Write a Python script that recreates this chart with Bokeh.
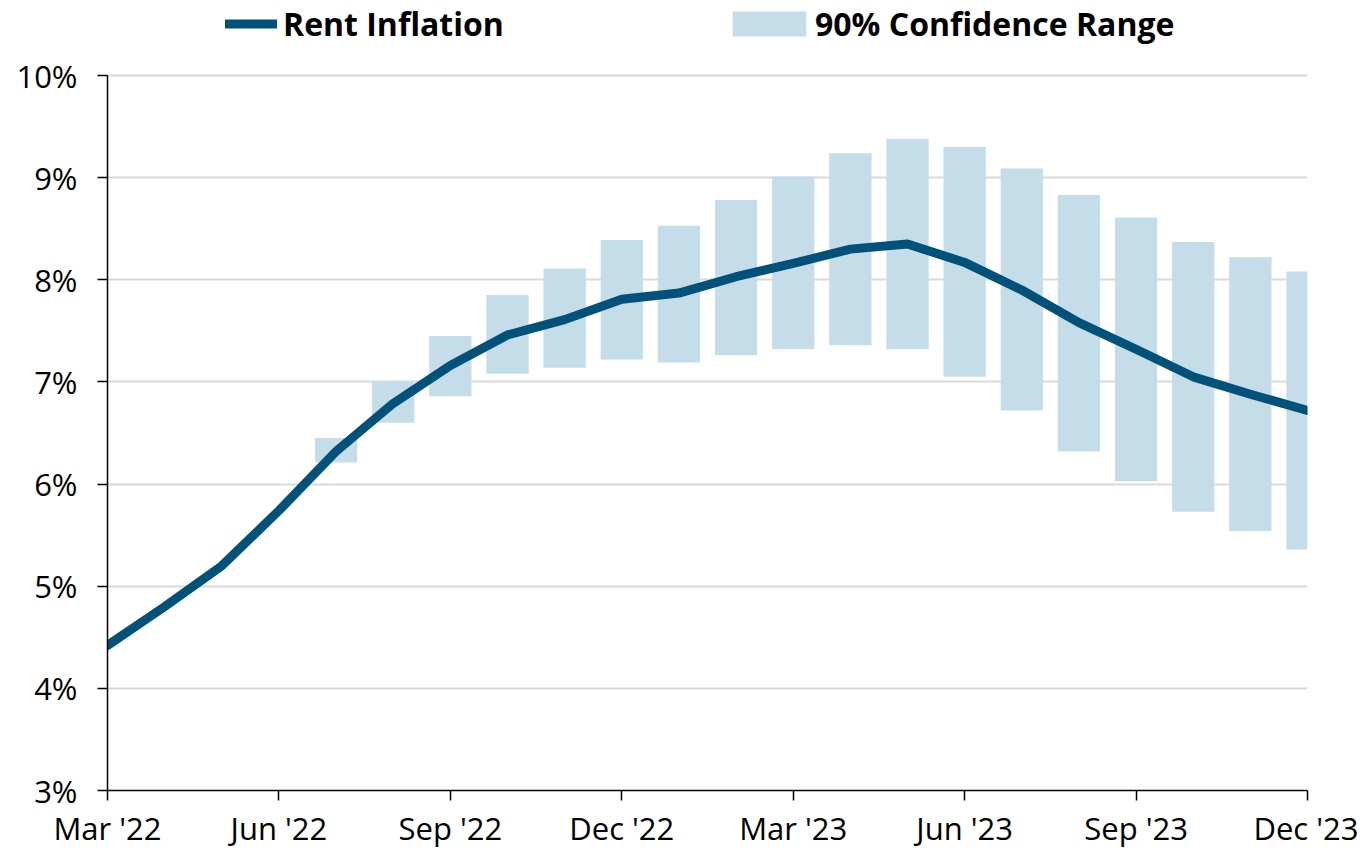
from bokeh.plotting import figure
from bokeh.models import Legend, LegendItem, FixedTicker, ColumnDataSource, Range1d
from bokeh.embed import file_html
from bokeh.resources import INLINE

months = ["Mar '22", "Apr '22", "May '22", "Jun '22", "Jul '22", "Aug '22", "Sep '22",
          "Oct '22", "Nov '22", "Dec '22", "Jan '23", "Feb '23", "Mar '23", "Apr '23",
          "May '23", "Jun '23", "Jul '23", "Aug '23", "Sep '23", "Oct '23", "Nov '23", "Dec '23"]
rent_inflation = [4.42, 4.80, 5.20, 5.74, 6.32, 6.79, 7.16, 7.46, 7.61, 7.81, 7.87,
                  8.03, 8.16, 8.30, 8.35, 8.17, 7.90, 7.58, 7.32, 7.05, 6.88, 6.72]
band_months = months[4:]
band_high = [6.45, 7.00, 7.45, 7.85, 8.11, 8.39, 8.53, 8.78, 9.01, 9.24, 9.38,
             9.30, 9.09, 8.83, 8.61, 8.37, 8.22, 8.08]
band_low = [6.21, 6.60, 6.86, 7.08, 7.14, 7.22, 7.19, 7.26, 7.32, 7.36, 7.32,
            7.05, 6.72, 6.32, 6.03, 5.73, 5.54, 5.36]
y_ticks = [3, 4, 5, 6, 7, 8, 9, 10]
x_tick_labels = ["Mar '22", "Jun '22", "Sep '22", "Dec '22", "Mar '23", "Jun '23", "Sep '23", "Dec '23"]

LINE = "#00527a"
BAND = "#c5dde9"
FONT = "Open Sans"

HEIGHT = 852
Y_MIN, Y_MAX = 3, 10
FRAME_TOP = 0        # canvas px
AXIS_TOP = 75        # canvas px where 10% sits
AXIS_BOTTOM = 790    # canvas px where 3% sits (frame bottom)
px_per_unit = (AXIS_BOTTOM - AXIS_TOP) / (Y_MAX - Y_MIN)
y_top = Y_MIN + (AXIS_BOTTOM - FRAME_TOP) / px_per_unit  # headroom for the legend

idx = {m: i for i, m in enumerate(months)}
line_src = ColumnDataSource(dict(x=[idx[m] for m in months], y=rent_inflation))
band_src = ColumnDataSource(dict(x=[idx[m] for m in band_months], top=band_high, bottom=band_low))

p = figure(width=1358, height=HEIGHT, output_backend="svg", toolbar_location=None,
           x_range=Range1d(0, len(months) - 1), y_range=Range1d(Y_MIN, y_top),
           min_border_left=107, min_border_right=51, min_border_top=FRAME_TOP,
           min_border_bottom=HEIGHT - AXIS_BOTTOM)
p.outline_line_color = None
p.background_fill_color = "white"

bars = p.vbar(x="x", top="top", bottom="bottom", width=0.74, source=band_src,
              fill_color=BAND, line_color=None)
ln = p.line(x="x", y="y", source=line_src, line_color=LINE, line_width=9,
            line_cap="round", line_join="round")

# axes
p.xaxis.ticker = FixedTicker(ticks=[idx[m] for m in x_tick_labels])
p.xaxis.major_label_overrides = {idx[m]: m for m in x_tick_labels}
p.yaxis.ticker = FixedTicker(ticks=y_ticks)
p.yaxis.major_label_overrides = {t: f"{t}%" for t in y_ticks}
p.yaxis.bounds = (Y_MIN, Y_MAX)
for ax in (p.xaxis[0], p.yaxis[0]):
    ax.axis_line_color = "black"
    ax.axis_line_width = 1.5
    ax.major_tick_line_color = "black"
    ax.major_tick_line_width = 1.5
    ax.major_tick_out = 10
    ax.major_tick_in = 0
    ax.minor_tick_line_color = None
    ax.major_label_text_font = FONT
    ax.major_label_text_font_size = "31px"
    ax.major_label_text_color = "black"
p.yaxis.major_label_standoff = 20
p.xaxis.major_label_standoff = 6

p.xgrid.grid_line_color = None
p.ygrid.grid_line_color = "#d9d9d9"
p.ygrid.grid_line_width = 2

common = dict(orientation="horizontal", border_line_color=None, background_fill_alpha=0,
              padding=0, margin=0,
              label_text_font=FONT, label_text_font_size="32px",
              label_text_font_style="bold", label_text_color="black")
leg1 = Legend(items=[LegendItem(label="Rent Inflation", renderers=[ln])],
              location=(118, 745), glyph_width=52, glyph_height=25, label_standoff=6, **common)
leg2 = Legend(items=[LegendItem(label="90% Confidence Range", renderers=[bars])],
              location=(616, 745), glyph_width=92, glyph_height=31, label_standoff=0, **common)
p.add_layout(leg1, "center")
p.add_layout(leg2, "center")

open("out.html", "w").write(file_html(p, INLINE))
